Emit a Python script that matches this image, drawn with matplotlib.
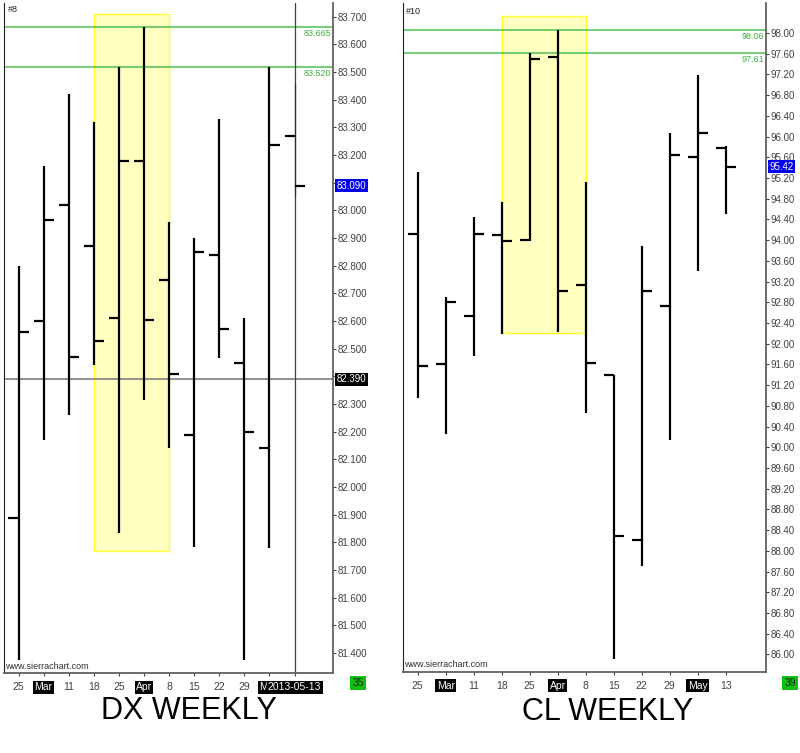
import matplotlib.pyplot as plt
from matplotlib.patches import Rectangle

plt.rcParams['font.family'] = ['Liberation Sans', 'DejaVu Sans']

# weekly bars, Feb 25 .. May 13 2013
week_labels = ["25", "Mar", "11", "18", "25", "Apr", "8", "15", "22", "29", "May", "13"]
month_labels = ["Mar", "Apr", "May"]

dx_open = [81.89, 82.60, 83.02, 82.87, 82.61, 83.18, 82.75, 82.19, 82.84, 82.45, 82.14, 83.27]
dx_high = [82.80, 83.16, 83.42, 83.32, 83.52, 83.665, 82.96, 82.90, 83.33, 82.61, 83.52, 83.46]
dx_low = [81.375, 82.17, 82.26, 82.44, 81.835, 82.315, 82.14, 81.785, 82.465, 81.375, 81.78, 83.05]
dx_close = [82.56, 82.965, 82.47, 82.53, 83.18, 82.605, 82.41, 82.85, 82.57, 82.20, 83.235, 83.09]
dx_levels = [83.665, 83.520]
dx_box = (3, 6, 81.77, 83.71)
dx_ref_line = 82.390
dx_last = 83.090

cl_open = [94.11, 91.61, 92.535, 94.09, 94.00, 97.54, 93.14, 91.395, 88.215, 92.73, 95.605, 95.785]
cl_high = [95.32, 92.91, 94.44, 94.74, 97.61, 98.06, 95.13, 91.395, 93.89, 96.06, 97.19, 95.82]
cl_low = [90.945, 90.255, 91.77, 92.19, 93.99, 92.23, 90.655, 85.91, 87.71, 90.14, 93.40, 94.50]
cl_close = [91.575, 92.81, 94.11, 93.98, 97.50, 93.025, 91.63, 88.28, 93.02, 95.64, 96.07, 95.42]
cl_levels = [98.06, 97.61]
cl_box = (3, 6, 92.20, 98.33)
cl_last = 95.42

W, H = 800, 753
fig = plt.figure(figsize=(W / 100, H / 100), dpi=100)


def px_axes(x0, y0, x1, y1):
    return fig.add_axes([x0 / W, (H - y1) / H, (x1 - x0) / W, (y1 - y0) / H])


def ohlc_panel(ax, o, h, l, c, tick_w, thin_last=False):
    xs = list(range(len(o)))
    for i in xs:
        lw = 0.9 if (thin_last and i == xs[-1]) else 1.6
        col = '#303030' if (thin_last and i == xs[-1]) else 'black'
        ax.vlines(i, l[i], h[i], color=col, lw=lw, zorder=3)
        ax.hlines(o[i], i - tick_w, i, color='black', lw=1.6, zorder=3)
        ax.hlines(c[i], i, i + tick_w, color='black', lw=1.6, zorder=3)


def style_axes(ax, fmt, ticks, hidden=()):
    ax.spines['top'].set_visible(False)
    ax.spines['left'].set_color('#202020')
    ax.spines['right'].set_color('#606060')
    ax.spines['bottom'].set_color('#606060')
    ax.spines['right'].set_linewidth(1.3)
    ax.spines['bottom'].set_linewidth(1.3)
    ax.yaxis.tick_right()
    ax.set_yticks(ticks)
    # labels sitting under a value box are not shown
    labels = [fmt % t for t in ticks]
    ax.set_yticklabels(['' if s in hidden else s for s in labels])
    ax.tick_params(axis='y', length=2.5, pad=1, labelsize=7, colors='#404040')
    ax.tick_params(axis='x', length=2.5, pad=4, labelsize=7.5, colors='#404040')
    ax.set_xticks(range(len(week_labels)))


def set_week_labels(ax, labels):
    ax.set_xticklabels(labels)
    for lab in ax.get_xticklabels():
        if lab.get_text() in month_labels or '-' in lab.get_text():
            lab.set_color('white')
            lab.set_bbox(dict(facecolor='black', edgecolor='none', pad=1))


def level_lines(ax, levels, fmt):
    for lv in levels:
        ax.axhline(lv, color='#50c050', lw=1.1, zorder=2)
        ax.annotate(fmt % lv, xy=(1.0, lv), xycoords=ax.get_yaxis_transform(),
                    xytext=(-1, -1.5), textcoords='offset points',
                    ha='right', va='top', fontsize=6.5, color='#40b040')


def value_box(ax, val, fmt, bg):
    ax.annotate(fmt % val, xy=(1.0, val), xycoords=ax.get_yaxis_transform(),
                xytext=(2.5, 0), textcoords='offset points', ha='left', va='center',
                fontsize=7, color='white', zorder=10, annotation_clip=False,
                bbox=dict(facecolor=bg, edgecolor='none', pad=1.2))


# --- DX weekly ---
ax1 = px_axes(4, 3, 333, 673.3)
ax1.set_xlim(-0.578, 12.53)
ax1.set_ylim(81.327, 83.75)
x0, x1, y0, y1 = dx_box
ax1.add_patch(Rectangle((x0, y0), x1 - x0, y1 - y0, facecolor='#ffffc0',
                        edgecolor='#ffff30', lw=1, zorder=1))
ohlc_panel(ax1, dx_open, dx_high, dx_low, dx_close, 0.4, thin_last=True)
style_axes(ax1, '%.3f', [81.4 + 0.1 * k for k in range(24)], hidden=('82.400', '83.100'))
set_week_labels(ax1, week_labels[:11] + ['2013-05-13'])
level_lines(ax1, dx_levels, '%.3f')
ax1.axhline(dx_ref_line, color='#888888', lw=1.3, zorder=2)
ax1.axvline(11, color='#404040', lw=0.9, zorder=2)
value_box(ax1, dx_ref_line, '%.3f', 'black')
value_box(ax1, dx_last, '%.3f', '#0000ee')
ax1.text(0.003, 0.004, 'www.sierrachart.com', transform=ax1.transAxes,
         fontsize=6.5, color='#303030', va='bottom', ha='left')

# --- CL weekly ---
ax2 = px_axes(402.7, 3, 766, 671.7)
ax2.set_xlim(-0.536, 12.44)
ax2.set_ylim(85.665, 98.58)
x0, x1, y0, y1 = cl_box
ax2.add_patch(Rectangle((x0, y0), x1 - x0, y1 - y0, facecolor='#ffffc0',
                        edgecolor='#ffff30', lw=1, zorder=1))
ohlc_panel(ax2, cl_open, cl_high, cl_low, cl_close, 0.36)
style_axes(ax2, '%.2f', [86 + 0.4 * k for k in range(31)])
set_week_labels(ax2, week_labels)
level_lines(ax2, cl_levels, '%.2f')
value_box(ax2, cl_last, '%.2f', '#0000ee')
ax2.text(0.003, 0.004, 'www.sierrachart.com', transform=ax2.transAxes,
         fontsize=6.5, color='#303030', va='bottom', ha='left')

# chart ids and bar-count boxes
fig.text(8 / W, 1 - 9 / H, '#8', fontsize=6.5, color='#202020', va='center')
fig.text(406 / W, 1 - 11 / H, '#10', fontsize=6.5, color='#202020', va='center')
fig.text(358 / W, 1 - 683 / H, '35', fontsize=7.5, color='#202020', ha='center', va='center',
         bbox=dict(facecolor='#10c010', edgecolor='none', pad=1.5))
fig.text(790 / W, 1 - 683 / H, '39', fontsize=7.5, color='#202020', ha='center', va='center',
         bbox=dict(facecolor='#10c010', edgecolor='none', pad=1.5))

# titles
fig.text(189 / W, 1 - 711 / H, 'DX WEEKLY', fontsize=22, ha='center', va='center', color='black')
fig.text(608 / W, 1 - 712 / H, 'CL WEEKLY', fontsize=22, ha='center', va='center', color='black')

fig.savefig('out.png', dpi=100)
